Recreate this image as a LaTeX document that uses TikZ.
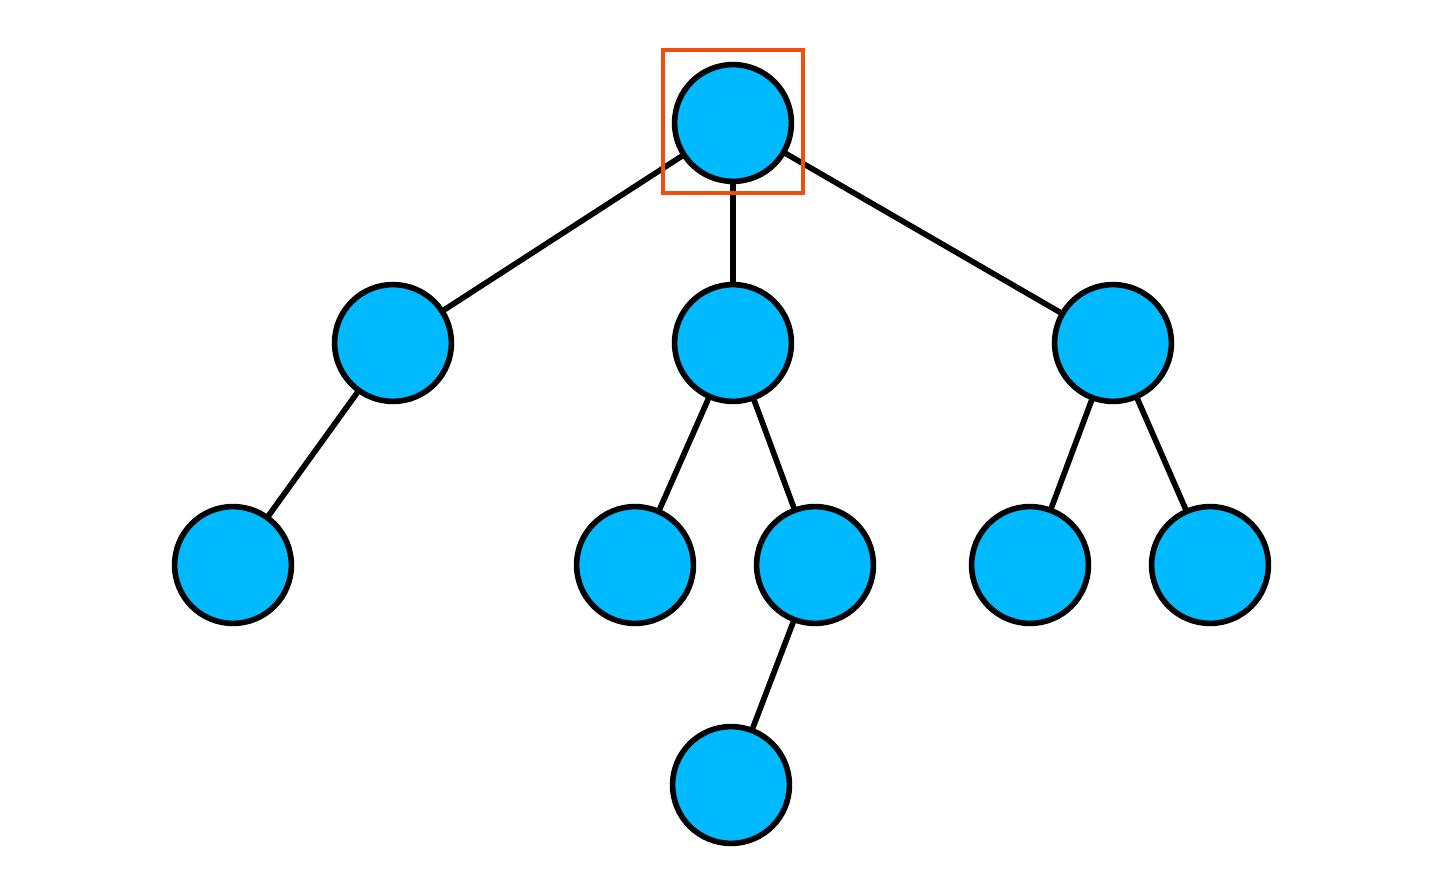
\documentclass[tikz,border=0pt]{standalone}
\begin{document}
\begin{tikzpicture}[x=0.01cm,y=-0.01cm,
  tn/.style={circle,draw=black,line width=1.6pt,fill={rgb,255:red,0;green,186;blue,255},minimum size=3.2cm*0.01*36.5,inner sep=0pt},
  edge/.style={line width=1.6pt,draw=black},
  hl/.style={draw={rgb,255:red,240;green,78;blue,12},line width=1.4pt}]
\useasboundingbox (0,0) rectangle (1440,894);
\coordinate (r) at (733,123);
\coordinate (a) at (393,343);
\coordinate (b) at (733,343);
\coordinate (c) at (1113,343);
\coordinate (a1) at (233,565);
\coordinate (b1) at (635,565);
\coordinate (b2) at (815,565);
\coordinate (c1) at (1030,565);
\coordinate (c2) at (1210,565);
\coordinate (d) at (731,785);
\foreach \u/\v in {r/a,r/b,r/c,a/a1,b/b1,b/b2,c/c1,c/c2,b2/d}
  \draw[edge] (\u) -- (\v);
\foreach \n in {r,a,b,c,a1,b1,b2,c1,c2,d}
  \node[tn] (n\n) at (\n) {};
\node[hl,minimum width=140*0.01cm,minimum height=143*0.01cm,inner sep=0pt] (box) at (733,121.5) {};
\end{tikzpicture}
\end{document}
